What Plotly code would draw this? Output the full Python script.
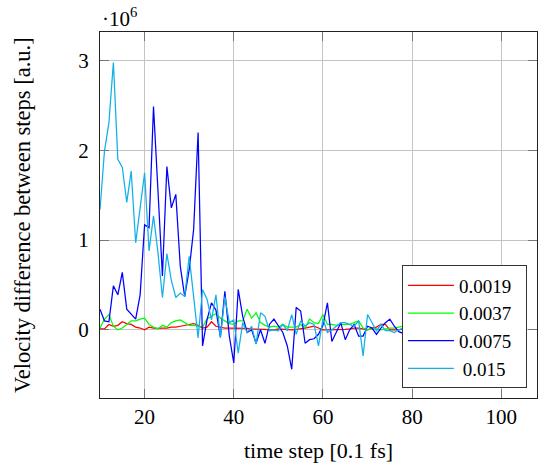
import plotly.graph_objects as go

steps = list(range(10, 81))

labels = ["0.0019\u2002", "0.0037\u2002", "0.0075\u2002", "\u20090.015\u2002"]
colors = ["#ff0000", "#00ff00", "#0000ff", "#12b0e8"]

# values in units of 10^6
v0019 = [0.01, 0.01, 0.06, 0.04, 0.05, 0.09, 0.07, 0.06, 0.03, 0.02,
         0.00, 0.03, 0.02, 0.015, 0.02, 0.02, 0.03, 0.03, 0.04, 0.05,
         0.06, 0.07, 0.05, 0.02, 0.03, 0.09, 0.04, 0.03, 0.02, 0.02,
         0.02, 0.02, 0.02, 0.015, 0.01, 0.01, 0.005, 0.005, 0.0, 0.0,
         0.01, 0.005, 0.0, 0.0, 0.005, 0.01, 0.02, 0.03, 0.04, 0.02,
         0.0, 0.0, 0.0, 0.0, 0.0, 0.005, 0.01, 0.02, 0.02, 0.01,
         0.0, 0.02, 0.03, 0.06, 0.06, 0.0, 0.0, 0.0, 0.01, 0.0, 0.01]

v0037 = [0.02, 0.12, 0.17, 0.04, 0.00, 0.02, 0.06, 0.10, 0.10, 0.12,
         0.13, 0.06, 0.03, 0.01, 0.05, 0.03, 0.08, 0.10, 0.11, 0.08,
         0.05, 0.05, 0.04, 0.03, 0.12, 0.15, 0.18, 0.13, 0.10, 0.07,
         0.06, 0.10, 0.10, 0.23, 0.13, 0.19, 0.08, 0.05, 0.03, 0.04,
         0.03, 0.06, 0.03, 0.03, 0.03, 0.06, 0.02, 0.12, 0.08, 0.07,
         0.17, 0.06, 0.06, 0.05, 0.06, 0.06, 0.06, 0.08, 0.10, 0.02,
         0.00, 0.01, 0.01, 0.00, 0.01, 0.02, 0.02, 0.03, 0.04, 0.03, 0.02]

v0075 = [0.23, 0.10, 0.09, 0.49, 0.39, 0.64, 0.23, 0.18, 0.12, 0.39,
         1.17, 1.14, 2.49, 1.55, 0.60, 1.82, 1.36, 1.51, 0.71, 0.37,
         0.67, 1.12, 2.20, -0.18, 0.11, 0.30, 0.22, -0.08, 0.43, -0.07,
         -0.37, 0.45, 0.15, -0.03, 0.00, -0.15, 0.00, -0.15, 0.06, 0.12,
         0.04, -0.03, -0.18, -0.44, 0.25, 0.21, -0.15, -0.11, -0.10, -0.05,
         0.05, 0.30, -0.13, -0.03, 0.08, -0.11, 0.00, 0.06, -0.07, -0.07,
         0.04, 0.02, -0.05, 0.02, 0.08, 0.12, 0.04, -0.02, -0.04, 0.03, 0.0]

v015 = [1.34, 1.99, 2.31, 2.98, 1.90, 1.81, 1.42, 1.77, 0.97, 1.38,
        1.75, 0.88, 1.27, 0.86, 0.36, 0.85, 0.55, 0.36, 0.41, 0.37,
        0.82, 0.37, -0.09, 0.45, 0.34, 0.11, 0.39, -0.09, 0.37, 0.08,
        0.11, -0.26, 0.08, -0.03, 0.04, -0.16, 0.19, 0.15, -0.01, 0.00,
        -0.01, 0.06, -0.01, 0.17, -0.05, 0.10, 0.04, 0.08, 0.06, -0.18,
        0.12, -0.03, 0.00, 0.04, 0.08, 0.08, 0.06, 0.04, 0.10, -0.29,
        0.17, 0.08, -0.01, 0.06, -0.01, -0.01, -0.03, 0.00, 0.02, 0.01, 0.0]

series = [v0019, v0037, v0075, v015]

x_ticks = [20, 40, 60, 80, 100]
y_ticks = [0, 1, 2, 3]

FONT = "Liberation Serif"

fig = go.Figure()
for lab, col, vals in zip(labels, colors, series):
    fig.add_trace(go.Scatter(x=steps, y=vals, mode="lines", name=lab,
                             line=dict(color=col, width=1.25)))

axis_common = dict(
    showgrid=True, gridcolor="#c4c4c4", gridwidth=1,
    showline=True, linecolor="#222222", linewidth=1, mirror="ticks",
    ticks="inside", ticklen=9, tickcolor="#777777", tickwidth=1,
    zeroline=False,
    tickfont=dict(family=FONT, size=21, color="black"),
)

fig.update_layout(
    width=538, height=466,
    margin=dict(l=100, r=1, t=32, b=68),
    paper_bgcolor="white", plot_bgcolor="white",
    font=dict(family=FONT, color="black"),
    xaxis=dict(range=[10, 108], tickvals=x_ticks, ticklabelstandoff=0, **axis_common),
    yaxis=dict(range=[-0.76, 3.32], tickvals=y_ticks, ticklabelstandoff=6, **axis_common),
    showlegend=True,
    legend=dict(x=0.977, y=0.026, xanchor="right", yanchor="bottom",
                bgcolor="white", bordercolor="#333333", borderwidth=1,
                font=dict(family=FONT, size=19, color="black"),
                itemwidth=46, tracegroupgap=0),
    annotations=[
        dict(text="·10<sup>6</sup>", xref="paper", yref="paper", x=0.0, y=1.0 + 14/366,
             xanchor="left", yanchor="middle", showarrow=False,
             font=dict(family=FONT, size=21, color="black")),
        dict(text="time step [0.1 fs]", xref="paper", yref="paper", x=0.5, y=-(450-398)/366,
             xanchor="center", yanchor="middle", showarrow=False,
             font=dict(family=FONT, size=22, color="black")),
        dict(text="Velocity difference between steps [a.u.]", xref="paper", yref="paper",
             x=-(100-22)/437, y=0.5, xanchor="center", yanchor="middle", textangle=-90,
             showarrow=False, font=dict(family=FONT, size=22.5, color="black")),
    ],
)

fig.write_html("out.html", config={"displayModeBar": False},
               post_script="document.body.style.margin='0';")
